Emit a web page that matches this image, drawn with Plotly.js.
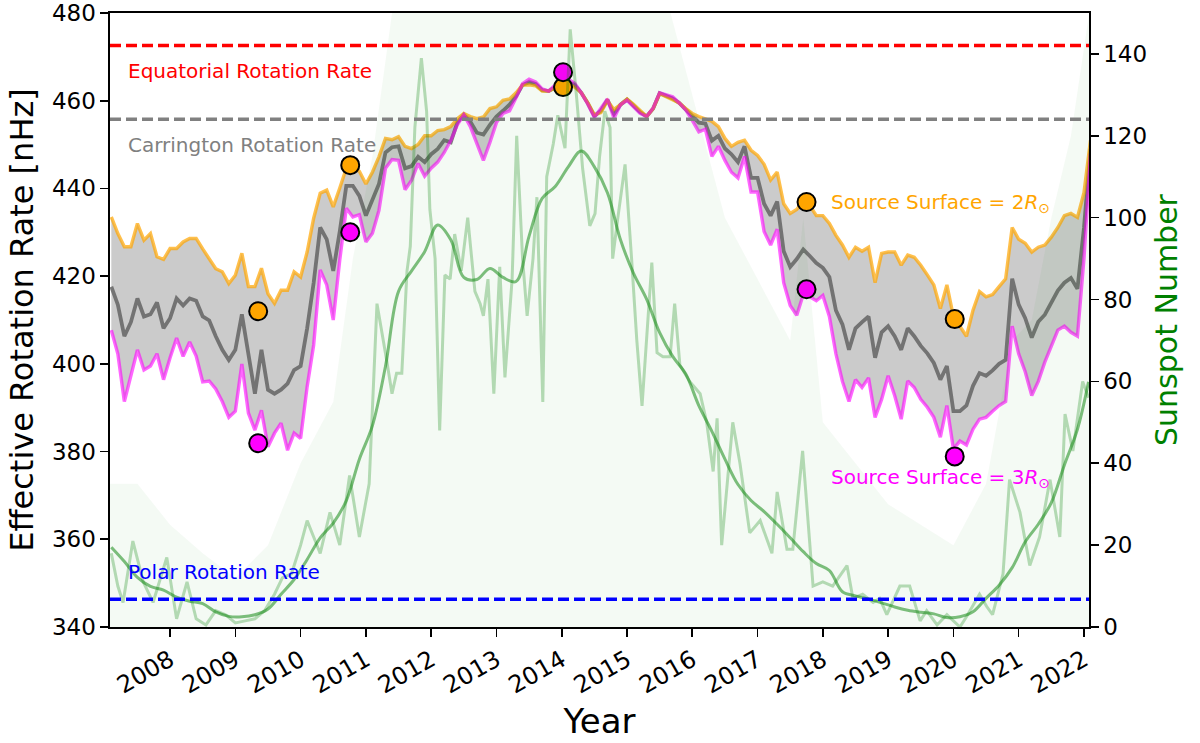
<!DOCTYPE html>
<html>
<head>
<meta charset="utf-8">
<script src="https://cdn.plot.ly/plotly-3.0.1.min.js"></script>
<style>
  html, body { margin: 0; padding: 0; background: #fff; }
  #chart { width: 1200px; height: 743px; }
</style>
</head>
<body>
<div id="chart"></div>
<script>
// effective rotation rate [nHz], one value every 0.1 yr from 2007.1 to 2022.1
const rate2R = [
  433.5, 429.7, 426.7, 426.7, 432, 428.2, 429.7, 424.4, 423.8, 426.3,
  426.3, 427.8, 428.6, 428.6, 426.2, 424, 421.7, 421, 418.3, 420.2,
  425.2, 417.6, 417.6, 421.8, 416, 413.8, 416.8, 416.8, 421, 419.8,
  425.5, 433.2, 438.9, 439.6, 435.8, 440.1, 444.6, 445.1, 443.9, 441,
  443.7, 447.2, 451.4, 451.1, 451.8, 449.6, 449.1, 450, 452, 452,
  453.2, 453.4, 454.1, 455.9, 457.1, 456.4, 455.9, 456.3, 458.2, 458.6,
  460.1, 460.4, 461.8, 463.6, 463.6, 463.4, 462.2, 462.2, 462.8, 463.6,
  463.7, 463.1, 461.8, 459.5, 456.8, 457.3, 460, 458, 459.1, 460.4,
  459.2, 457.7, 456.4, 458.2, 461.6, 460.9, 460.1, 459.5, 458.2, 457.1,
  456.4, 455.9, 455.3, 454.1, 451.4, 449.6, 450.5, 451, 448.7, 447.5,
  445.5, 441.9, 443.7, 436.5, 434.3, 435.2, 437.2, 436.1, 433.8, 433.8,
  432, 429.3, 427.1, 424.3, 426.6, 425.7, 426.6, 418.5, 425.2, 425.5,
  425.5, 422.5, 424.8, 424.3, 422.5, 420.3, 418, 412.6, 418, 410.8,
  408.6, 406.3, 412.2, 416.5, 415.3, 415.8, 417.6, 419.4, 431.1, 428.4,
  427.5, 425.5, 426.6, 427.1, 428.9, 431.1, 433.8, 434.3, 433.4, 439,
  451
];
const rate3R = [
  407.7, 402.3, 391.4, 397.7, 403.2, 398.6, 399.5, 402.3, 396.4, 401.4,
  405.9, 401.7, 405, 401.8, 395.9, 396.1, 394.3, 391.4, 387.8, 389.2,
  400, 388.8, 384.9, 389.4, 381.1, 384.2, 386.5, 380.3, 384.2, 383,
  394.8, 404.3, 421.4, 418, 410, 423.7, 435.5, 433.5, 434, 427.8,
  429.8, 435, 444.6, 446.6, 446.4, 439.7, 441.9, 445.7, 442.8, 444.6,
  446, 448.2, 450.9, 454.5, 456.8, 454.1, 450, 446.4, 450.5, 455,
  457.1, 457.7, 460.7, 463.9, 464.9, 464.3, 462.7, 462.2, 463.6, 465.4,
  464.9, 464, 461.8, 459.2, 456.2, 458.2, 460.4, 456, 459.1, 460.1,
  458.6, 457.1, 456.4, 458.3, 461.8, 461.3, 460.9, 459.5, 457.9, 455.5,
  452.9, 453.5, 447.3, 449.6, 446.4, 443.7, 442.4, 447.3, 439.2, 439.2,
  430.2, 427.1, 430.7, 418.5, 413.3, 411.1, 415.8, 415.3, 414.4, 415.6,
  410.8, 402.3, 396, 391.4, 396.4, 394.6, 396.8, 387.8, 391.9, 397.3,
  392.8, 387.4, 396.1, 394.6, 391.9, 390.1, 387.8, 383.3, 390.5, 380.6,
  382.4, 381.5, 385.1, 387.4, 387.8, 389.2, 390.5, 391.4, 408.6, 402.3,
  398.2, 392.8, 396, 400.4, 404.1, 407.7, 408.6, 407.2, 406.3, 424,
  448
];
const rateMean = [
  417.6, 413.5, 406.3, 409.5, 414.9, 410.8, 411.3, 414, 408.1, 410.4,
  414.9, 413.3, 414.9, 414.4, 410.8, 409.9, 406.3, 403.2, 400.9, 403.2,
  411.3, 402.3, 393.2, 403.2, 394.1, 393.2, 394.1, 395.5, 398.6, 399.5,
  408.1, 418.5, 431.1, 428.4, 421.2, 430.2, 440.6, 440.6, 438.3, 433.8,
  437.4, 441, 448.2, 449.4, 449.6, 444.6, 445.1, 447.2, 446, 447.8,
  449, 451, 450.5, 455, 456.8, 455.2, 452.7, 452.3, 454.5, 456.4,
  457.7, 459.1, 461, 463.6, 464.2, 463.8, 462.4, 462.2, 463.1, 464.5,
  464.3, 463.6, 461.8, 459.4, 456.5, 457.7, 460.2, 457, 459.1, 460.3,
  458.9, 457.4, 456.4, 458.2, 461.7, 461.1, 460.5, 459.5, 458, 456.2,
  455, 454.8, 450.9, 452, 449.1, 447.8, 446, 449.6, 442.4, 442.4,
  436.5, 433.8, 437, 425.7, 422.1, 423.9, 426.1, 424.6, 423, 421.9,
  419.8, 412.2, 409, 403.2, 408.1, 409.5, 410.8, 401.4, 407.2, 408.6,
  406.3, 403.2, 408.1, 406.3, 404.1, 402.4, 400.2, 396.4, 399.5, 389.2,
  389.2, 390.5, 395, 397.9, 397.3, 398.5, 400, 400.9, 419.4, 413.5,
  410.4, 406, 409.6, 411.2, 414, 416.7, 418.5, 419.6, 417.1, 431,
  449
];
const rateYears = rate2R.map((_, i) => Math.round((2007.1 + 0.1 * i) * 100) / 100);

// highlighted dates
const markYears = [2009.35, 2010.76, 2014.02, 2017.75, 2020.02];
const mark2R = [412, 445.3, 463.1, 436.9, 410.2];
const mark3R = [381.9, 430, 466.5, 417, 378.9];

// reference rotation rates [nHz]
const equatorialRate = 472.6;
const carringtonRate = 455.8;
const polarRate = 346.3;

// smoothed sunspot number
const smoothYears = [
  2007.1, 2007.3, 2007.5, 2007.7, 2007.9, 2008.1, 2008.3, 2008.5, 2008.7, 2008.9,
  2009.1, 2009.3, 2009.5, 2009.7, 2009.9, 2010.1, 2010.3, 2010.5, 2010.7, 2010.9,
  2011.1, 2011.3, 2011.5, 2011.7, 2011.9, 2012.1, 2012.3, 2012.5, 2012.7, 2012.9,
  2013.1, 2013.3, 2013.5, 2013.7, 2013.9, 2014.1, 2014.3, 2014.5, 2014.7, 2014.9,
  2015.1, 2015.3, 2015.5, 2015.7, 2015.9, 2016.1, 2016.3, 2016.5, 2016.7, 2016.9,
  2017.1, 2017.3, 2017.5, 2017.7, 2017.9, 2018.1, 2018.3, 2018.5, 2018.7, 2018.9,
  2019.1, 2019.3, 2019.5, 2019.7, 2019.9, 2020.1, 2020.3, 2020.5, 2020.7, 2020.9,
  2021.1, 2021.3, 2021.5, 2021.7, 2021.9, 2022.07
];
const smoothSSN = [
  19.5, 16, 12.1, 9.9, 9, 7.3, 6.3, 5.7, 3.7, 2.6,
  2.5, 3, 4.4, 8, 11.6, 16.5, 21.8, 25.4, 30.9, 41,
  49.2, 63.7, 82, 87, 91.7, 98.2, 94.6, 85.4, 84.9, 87.6,
  85.4, 84.4, 95.5, 104.7, 107.6, 112.4, 116.3, 112.4, 106.1, 94.6,
  86.4, 80.1, 71.9, 66.1, 61.8, 54.1, 47.8, 41, 34.8, 30.9,
  28.2, 25.1, 21.8, 18.4, 15.5, 13.8, 8.6, 7.6, 6.8, 5.9,
  4.9, 4.1, 3.6, 3.2, 2.3, 2.5, 3.7, 7, 10.2, 14.5,
  20.8, 25.1, 30.4, 39.6, 48.3, 59.9
];

// monthly sunspot number
const monthYears = [
  2007.1, 2007.2, 2007.28, 2007.43, 2007.59, 2007.74, 2007.95, 2008.1, 2008.26, 2008.4,
  2008.55, 2008.7, 2008.85, 2009.0, 2009.15, 2009.3, 2009.45, 2009.6, 2009.72, 2009.86,
  2010.0, 2010.1, 2010.2, 2010.3, 2010.45, 2010.6, 2010.75, 2010.9, 2011.05, 2011.17,
  2011.32, 2011.4, 2011.47, 2011.55, 2011.63, 2011.68, 2011.75, 2011.85, 2011.93, 2011.98,
  2012.06, 2012.13, 2012.21, 2012.29, 2012.36, 2012.46, 2012.56, 2012.67, 2012.75, 2012.8,
  2012.87, 2012.96, 2013.05, 2013.13, 2013.24, 2013.31, 2013.4, 2013.47, 2013.56, 2013.62,
  2013.71, 2013.77, 2013.87, 2013.94, 2014.05, 2014.13, 2014.23, 2014.32, 2014.43, 2014.51,
  2014.58, 2014.66, 2014.74, 2014.78, 2014.86, 2014.97, 2015.07, 2015.15, 2015.23, 2015.38,
  2015.46, 2015.55, 2015.66, 2015.73, 2015.81, 2015.96, 2016.12, 2016.22, 2016.32, 2016.38,
  2016.45, 2016.62, 2016.73, 2016.88, 2017.04, 2017.22, 2017.3, 2017.45, 2017.54, 2017.69,
  2017.85, 2018.0, 2018.15, 2018.37, 2018.46, 2018.61, 2018.77, 2018.87, 2018.98, 2019.18,
  2019.33, 2019.49, 2019.59, 2019.75, 2019.9, 2020.1, 2020.2, 2020.4, 2020.51, 2020.6,
  2020.76, 2020.86, 2021.02, 2021.17, 2021.32, 2021.48, 2021.63, 2021.71, 2021.83, 2021.98,
  2022.07
];
const monthSSN = [
  18, 10, 6, 21, 11, 6, 17, 2, 11, 2,
  0.5, 4, 3, 1, 1.5, 2, 4, 8, 12, 13,
  20, 26, 22, 18, 28, 20, 37, 22, 35, 79,
  65, 57, 62, 62, 87, 93, 122, 139, 126, 102,
  90, 48, 86, 85, 96, 87, 100, 82, 79, 76,
  85, 57, 88, 61, 85, 120, 90, 76, 90, 105,
  55, 110, 118, 125, 117, 146, 129, 112, 98, 101,
  115, 126, 122, 90, 100, 113, 90, 70, 54, 89,
  67, 66, 66, 79, 64, 60, 57, 50, 38, 51,
  20, 50, 40, 23, 26, 18, 33, 19, 19, 43,
  10, 11, 10, 15, 7, 8, 6, 7, 3, 10,
  10, 1.5, 4, 0.5, 3, 0, 2.5, 8, 5, 3,
  13, 36, 28, 15, 22, 36, 22, 52, 43, 60,
  56
];

// rough upper envelope of the daily sunspot number
const dailyYears = [
  2007.08, 2007.5, 2008.0, 2008.5, 2009.0, 2009.5, 2010.0, 2010.5, 2010.8, 2011.1,
  2011.4, 2011.7, 2012.0, 2012.5, 2013.0, 2013.5, 2014.0, 2014.5, 2015.0, 2015.5,
  2016.0, 2016.5, 2017.0, 2017.5, 2017.7, 2018.0, 2018.5, 2019.0, 2019.5, 2020.0,
  2020.5, 2020.9, 2021.2, 2021.5, 2021.8, 2022.08
];
const dailyHigh = [
  35, 35, 25, 18, 12, 20, 40, 55, 90, 115,
  150, 170, 170, 170, 170, 170, 170, 170, 170, 160,
  130, 100, 85, 70, 100, 50, 40, 30, 25, 20,
  35, 70, 75, 100, 120, 150
];

const yearTicks = [2008, 2009, 2010, 2011, 2012, 2013, 2014, 2015, 2016, 2017, 2018, 2019, 2020, 2021, 2022];
const rateTicks = [340, 360, 380, 400, 420, 440, 460, 480];
const ssnTicks = [0, 20, 40, 60, 80, 100, 120, 140];

const ORANGE = '#ffa500';
const MAGENTA = '#ff00ff';
const FONT = 'DejaVu Sans';

const traces = [
  // grey band between the two source surfaces
  {x: rateYears, y: rate3R, type: 'scatter', mode: 'lines', line: {width: 0}, hoverinfo: 'skip'},
  {x: rateYears, y: rate2R, type: 'scatter', mode: 'lines', line: {width: 0}, fill: 'tonexty',
   fillcolor: 'rgba(160,160,160,0.55)', hoverinfo: 'skip'},
  {x: rateYears, y: rateMean, type: 'scatter', mode: 'lines', line: {color: 'rgba(85,85,85,0.75)', width: 3.8}},
  {x: rateYears, y: rate2R, type: 'scatter', mode: 'lines', line: {color: 'rgba(255,165,0,0.7)', width: 3.4}},
  {x: rateYears, y: rate3R, type: 'scatter', mode: 'lines', line: {color: 'rgba(255,0,255,0.6)', width: 3.4}},
  {x: markYears, y: mark2R, type: 'scatter', mode: 'markers',
   marker: {color: ORANGE, size: 18, line: {color: 'black', width: 2}}},
  {x: markYears, y: mark3R, type: 'scatter', mode: 'markers',
   marker: {color: MAGENTA, size: 18, line: {color: 'black', width: 2}}},

  // sunspot number on the right axis
  {x: dailyYears, y: dailyHigh, yaxis: 'y2', type: 'scatter', mode: 'lines', line: {width: 0},
   fill: 'tozeroy', fillcolor: 'rgba(0,128,0,0.045)', hoverinfo: 'skip'},
  {x: monthYears, y: monthSSN, yaxis: 'y2', type: 'scatter', mode: 'lines',
   line: {color: 'rgba(0,128,0,0.27)', width: 3}},
  {x: smoothYears, y: smoothSSN, yaxis: 'y2', type: 'scatter', mode: 'lines',
   line: {color: 'rgba(0,128,0,0.5)', width: 3, shape: 'spline'}}
];

function hline(y, color) {
  return {type: 'line', xref: 'paper', x0: 0, x1: 1, yref: 'y', y0: y, y1: y,
          line: {color: color, width: 3.5, dash: '11px,5px'}};
}

const labelX = 2007.33;
const ssLabelX = 2018.1;
function note(x, y, text, color) {
  return {x: x, y: y, xref: 'x', yref: 'y', text: text, showarrow: false,
          xanchor: 'left', yanchor: 'middle', font: {family: FONT, size: 20, color: color}};
}

const axisCommon = {
  showgrid: false, zeroline: false, showline: true, linecolor: 'black', linewidth: 1.6,
  ticks: 'outside', ticklen: 8, tickwidth: 1.6, tickcolor: 'black',
  tickfont: {family: FONT, size: 23, color: 'black'}
};

const layout = {
  width: 1200, height: 743,
  margin: {l: 110, r: 111, t: 13, b: 116},
  paper_bgcolor: 'white', plot_bgcolor: 'white',
  showlegend: false,
  font: {family: FONT, color: 'black'},
  xaxis: Object.assign({}, axisCommon, {
    range: [2007.08, 2022.077], tickmode: 'array', tickvals: yearTicks,
    ticktext: yearTicks.map(String), tickangle: -30, mirror: true,
    tickfont: {family: FONT, size: 24, color: 'black'},
    title: {text: 'Year', font: {family: FONT, size: 34}, standoff: 10}
  }),
  yaxis: Object.assign({}, axisCommon, {
    range: [340, 480], tickmode: 'array', tickvals: rateTicks,
    title: {text: 'Effective Rotation Rate [nHz]', font: {family: FONT, size: 32}, standoff: 8}
  }),
  yaxis2: Object.assign({}, axisCommon, {
    range: [0, 150], tickmode: 'array', tickvals: ssnTicks, overlaying: 'y', side: 'right',
    title: {text: 'Sunspot Number', font: {family: FONT, size: 30, color: 'green'}, standoff: 10}
  }),
  shapes: [
    hline(equatorialRate, '#ff0000'),
    hline(carringtonRate, '#808080'),
    hline(polarRate, '#0000ff')
  ],
  annotations: [
    note(labelX, 466.7, 'Equatorial Rotation Rate', '#ff0000'),
    note(labelX, 450.0, 'Carrington Rotation Rate', '#808080'),
    note(labelX, 352.6, 'Polar Rotation Rate', '#0000ff'),
    note(ssLabelX, 436.7, 'Source Surface = 2<i>R</i><sub>⊙</sub>', ORANGE),
    note(ssLabelX, 373.9, 'Source Surface = 3<i>R</i><sub>⊙</sub>', MAGENTA)
  ]
};

Plotly.newPlot('chart', traces, layout, {displayModeBar: false, staticPlot: true});
</script>
</body>
</html>
